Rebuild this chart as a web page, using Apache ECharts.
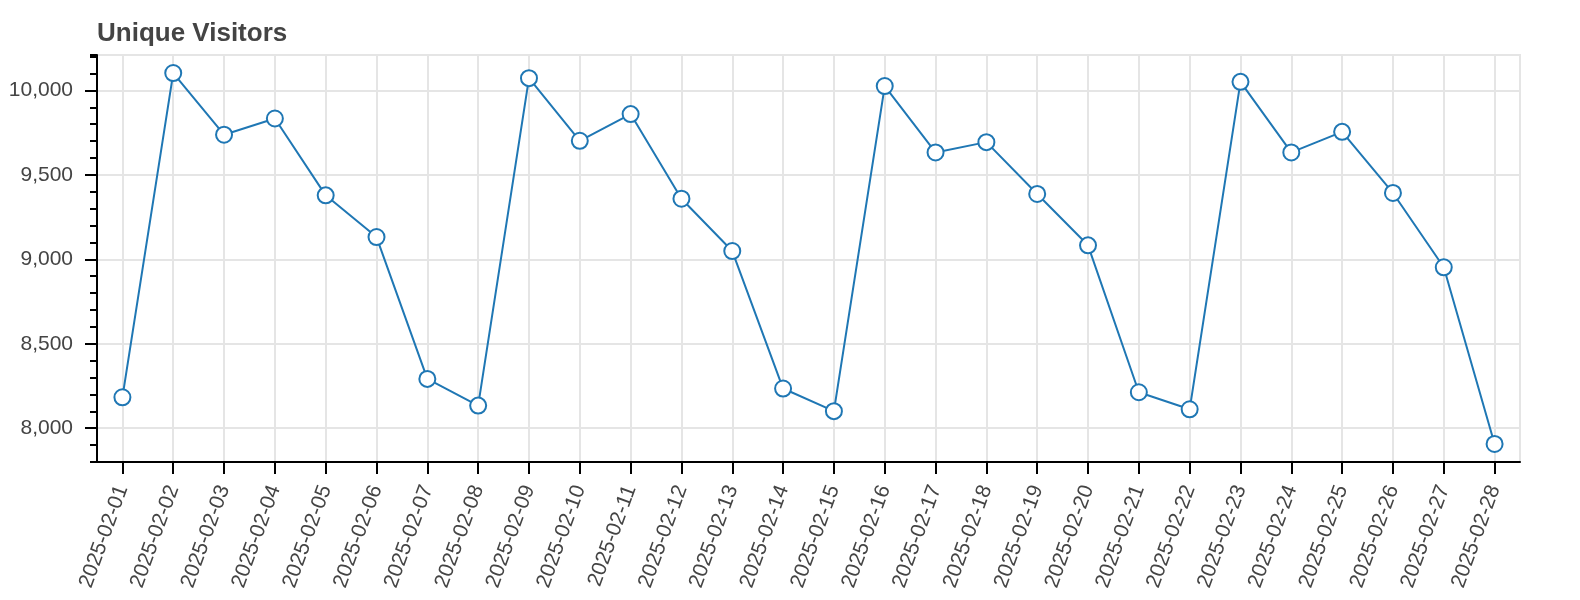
<!DOCTYPE html>
<html>
<head>
<meta charset="utf-8">
<script src="https://cdn.jsdelivr.net/npm/echarts@6/dist/echarts.min.js"></script>
<style>
html,body{margin:0;padding:0;background:#fff;}
#chart{width:1580px;height:600px;}
</style>
</head>
<body>
<div id="chart"></div>
<script>
const titleText = 'Unique Visitors';
const dates = [
  '2025-02-01','2025-02-02','2025-02-03','2025-02-04','2025-02-05','2025-02-06','2025-02-07',
  '2025-02-08','2025-02-09','2025-02-10','2025-02-11','2025-02-12','2025-02-13','2025-02-14',
  '2025-02-15','2025-02-16','2025-02-17','2025-02-18','2025-02-19','2025-02-20','2025-02-21',
  '2025-02-22','2025-02-23','2025-02-24','2025-02-25','2025-02-26','2025-02-27','2025-02-28'
];
const visitors = [
  8183, 10103, 9738, 9834, 9379, 9132, 8292,
  8134, 10073, 9702, 9860, 9359, 9049, 8235,
  8101, 10026, 9633, 9694, 9387, 9083, 8213,
  8112, 10051, 9633, 9755, 9393, 8953, 7907
];
const yMin = 7800;
const yMax = 10210;

const FONT = '"Liberation Sans", Helvetica, Arial, sans-serif';
const chart = echarts.init(document.getElementById('chart'), null, {renderer: 'canvas'});
chart.setOption({
  animation: false,
  backgroundColor: '#ffffff',
  title: {
    text: titleText,
    left: 92,
    top: 16,
    textStyle: {fontFamily: FONT, fontSize: 26, fontWeight: 'bold', color: '#444444'}
  },
  grid: {
    left: 97, right: 60, top: 55, bottom: 138,
    show: true, borderColor: '#e5e5e5', borderWidth: 2, backgroundColor: '#ffffff'
  },
  xAxis: {
    type: 'category',
    data: dates,
    boundaryGap: true,
    axisLine: {lineStyle: {color: '#000', width: 2}},
    axisTick: {show: true, alignWithLabel: true, length: 12, lineStyle: {color: '#000', width: 2}},
    axisLabel: {
      rotate: 70, margin: 24, interval: 0,
      fontFamily: FONT, fontSize: 21, color: '#444444'
    },
    splitLine: {show: true, alignWithLabel: true, lineStyle: {color: '#e5e5e5', width: 2}}
  },
  yAxis: [
    {
      type: 'value',
      min: yMin, max: yMax,
      axisLine: {show: true, lineStyle: {color: '#000', width: 2}},
      axisTick: {show: true, length: 12, lineStyle: {color: '#000', width: 2}},
      axisLabel: {
        margin: 24, fontFamily: FONT, fontSize: 21, color: '#444444',
        showMinLabel: false, showMaxLabel: false,
        formatter: v => (v % 500 === 0 ? v.toLocaleString('en-US') : '')
      },
      splitLine: {show: true, lineStyle: {color: '#e5e5e5', width: 2}}
    },
    {
      type: 'value',
      position: 'left',
      min: yMin, max: yMax,
      interval: 100,
      axisLine: {show: false},
      axisTick: {show: true, length: 7, lineStyle: {color: '#000', width: 2}},
      axisLabel: {show: false},
      splitLine: {show: false}
    }
  ],
  series: [{
    type: 'line',
    data: visitors,
    yAxisIndex: 0,
    symbol: 'circle',
    symbolSize: 16,
    showAllSymbol: true,
    lineStyle: {color: '#1f77b4', width: 2},
    itemStyle: {color: '#ffffff', borderColor: '#1f77b4', borderWidth: 2}
  }]
});
</script>
</body>
</html>
